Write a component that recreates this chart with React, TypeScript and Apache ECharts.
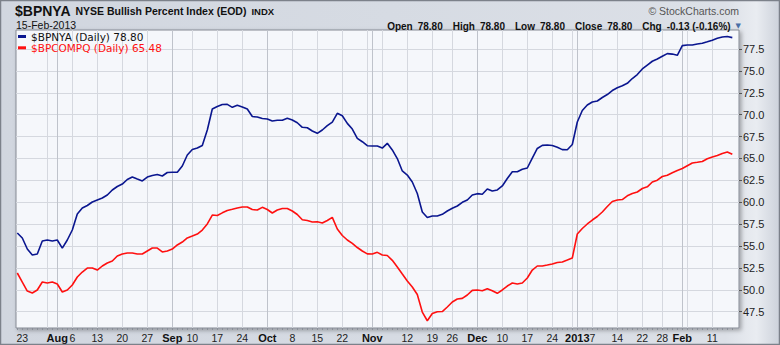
import React, { useEffect, useRef } from "react";
import * as echarts from "echarts";

const dates = [
  "2012-07-20","2012-07-23","2012-07-24","2012-07-25","2012-07-26","2012-07-27","2012-07-30","2012-07-31",
  "2012-08-01","2012-08-02","2012-08-03","2012-08-06","2012-08-07","2012-08-08","2012-08-09","2012-08-10",
  "2012-08-13","2012-08-14","2012-08-15","2012-08-16","2012-08-17","2012-08-20","2012-08-21","2012-08-22",
  "2012-08-23","2012-08-24","2012-08-27","2012-08-28","2012-08-29","2012-08-30","2012-08-31",
  "2012-09-04","2012-09-05","2012-09-06","2012-09-07","2012-09-10","2012-09-11","2012-09-12","2012-09-13",
  "2012-09-14","2012-09-17","2012-09-18","2012-09-19","2012-09-20","2012-09-21","2012-09-24","2012-09-25",
  "2012-09-26","2012-09-27","2012-09-28",
  "2012-10-01","2012-10-02","2012-10-03","2012-10-04","2012-10-05","2012-10-08","2012-10-09","2012-10-10",
  "2012-10-11","2012-10-12","2012-10-15","2012-10-16","2012-10-17","2012-10-18","2012-10-19","2012-10-22",
  "2012-10-23","2012-10-24","2012-10-25","2012-10-26","2012-10-31",
  "2012-11-01","2012-11-02","2012-11-05","2012-11-06","2012-11-07","2012-11-08","2012-11-09","2012-11-12",
  "2012-11-13","2012-11-14","2012-11-15","2012-11-16","2012-11-19","2012-11-20","2012-11-21","2012-11-23",
  "2012-11-26","2012-11-27","2012-11-28","2012-11-29","2012-11-30",
  "2012-12-03","2012-12-04","2012-12-05","2012-12-06","2012-12-07","2012-12-10","2012-12-11","2012-12-12",
  "2012-12-13","2012-12-14","2012-12-17","2012-12-18","2012-12-19","2012-12-20","2012-12-21","2012-12-24",
  "2012-12-26","2012-12-27","2012-12-28","2012-12-31",
  "2013-01-02","2013-01-03","2013-01-04","2013-01-07","2013-01-08","2013-01-09","2013-01-10","2013-01-11",
  "2013-01-14","2013-01-15","2013-01-16","2013-01-17","2013-01-18","2013-01-22","2013-01-23","2013-01-24",
  "2013-01-25","2013-01-28","2013-01-29","2013-01-30","2013-01-31",
  "2013-02-01","2013-02-04","2013-02-05","2013-02-06","2013-02-07","2013-02-08","2013-02-11","2013-02-12",
  "2013-02-13","2013-02-14","2013-02-15"
];

const bpnya = [
  56.49,55.92,54.66,53.98,54.09,55.58,55.69,55.58,55.69,54.77,55.69,56.83,58.66,59.34,59.63,60.03,
  60.26,60.49,60.83,61.40,61.80,62.08,62.60,62.88,62.65,62.43,62.88,63.05,63.17,63.00,63.40,63.42,
  63.42,64.14,65.40,66.02,66.19,66.48,68.25,70.65,70.93,71.16,71.18,70.84,71.07,70.88,70.65,69.79,
  69.73,69.56,69.51,69.28,69.36,69.36,69.59,69.39,69.08,68.56,68.51,68.14,67.87,68.25,68.74,69.16,
  70.16,69.88,69.01,68.36,67.30,66.91,66.46,66.42,66.42,66.19,66.73,65.97,64.99,63.57,63.11,62.31,
  61.00,58.89,58.26,58.43,58.43,58.62,59.00,59.31,59.57,59.99,60.26,60.83,60.98,60.91,61.51,61.28,
  61.40,61.86,62.71,63.49,63.49,63.76,63.91,65.05,66.14,66.50,66.54,66.48,66.27,66.01,66.00,66.59,
  69.16,70.48,71.11,71.45,71.56,71.96,72.30,72.76,73.07,73.31,73.58,74.13,74.58,75.22,75.67,76.10,
  76.36,76.67,76.97,76.92,76.78,77.89,77.96,77.96,78.07,78.15,78.32,78.50,78.72,78.87,78.93,78.80
];

const bpcompq = [
  51.92,50.89,49.86,49.64,49.98,50.89,50.78,50.89,50.66,49.75,49.98,50.55,51.46,52.03,52.49,52.49,
  52.26,52.72,53.06,53.29,53.86,54.09,54.20,54.20,54.09,54.09,54.43,54.77,54.77,54.32,54.43,54.66,
  55.12,55.46,55.92,56.14,56.37,56.83,57.52,58.54,58.49,58.79,59.06,59.19,59.34,59.46,59.46,59.17,
  59.11,59.42,59.17,58.77,59.11,59.28,59.28,59.00,58.60,58.00,57.92,57.74,57.77,57.63,57.92,58.28,
  56.94,56.20,55.69,55.31,54.83,54.43,54.11,54.09,54.28,53.98,53.92,53.37,52.60,51.80,51.01,50.32,
  49.46,47.46,46.47,47.29,47.50,47.52,48.04,48.61,48.95,49.02,49.41,49.94,49.98,49.90,50.13,49.89,
  49.60,49.98,50.43,50.78,50.66,50.78,51.35,52.26,52.72,52.72,52.83,52.95,53.12,53.18,53.40,53.63,
  56.37,57.00,57.52,57.97,58.37,58.89,59.51,60.08,60.26,60.31,60.74,60.99,61.17,61.57,61.76,62.31,
  62.52,62.94,63.09,63.36,63.62,63.85,64.17,64.48,64.56,64.65,64.96,65.17,65.34,65.57,65.74,65.48
];

const yTicks = [47.5, 50, 52.5, 55, 57.5, 60, 62.5, 65, 67.5, 70, 72.5, 75, 77.5];

const weekLines = [
  "2012-07-30","2012-08-06","2012-08-13","2012-08-20","2012-08-27","2012-09-04","2012-09-10",
  "2012-09-17","2012-09-24","2012-10-01","2012-10-08","2012-10-15","2012-10-22","2012-10-31","2012-11-05",
  "2012-11-12","2012-11-19","2012-11-26","2012-12-03","2012-12-10","2012-12-17","2012-12-24","2012-12-31",
  "2013-01-07","2013-01-14","2013-01-22","2013-01-28","2013-02-04","2013-02-11"
];
const monthLines = ["2012-08-01","2012-09-04","2012-10-01","2012-11-01","2012-12-03","2013-01-02","2013-02-01"];

const xLabelDates = [
  "2012-07-23","2012-08-01","2012-08-06","2012-08-13","2012-08-20","2012-08-27","2012-09-04","2012-09-10",
  "2012-09-17","2012-09-24","2012-10-01","2012-10-08","2012-10-15","2012-10-22","2012-11-01","2012-11-12",
  "2012-11-19","2012-11-26","2012-12-03","2012-12-10","2012-12-17","2012-12-24","2013-01-02","2013-01-07",
  "2013-01-14","2013-01-22","2013-01-28","2013-02-01","2013-02-11"
];
const xLabelTexts = [
  "23","Aug","6","13","20","27","Sep","10","17","24","Oct","8","15","22","Nov","12","19","26",
  "Dec","10","17","24","2013","7","14","22","28","Feb","11"
];
const boldLabels = ["Aug","Sep","Oct","Nov","Dec","2013","Feb"];

const seriesNames = ["$BPNYA", "$BPCOMPQ"];
const seriesColors = ["#0a168f", "#ff1010"];

export default function App() {
  const ref = useRef<HTMLDivElement>(null);
  useEffect(() => {
    if (!ref.current) return;
    const chart = echarts.init(ref.current, undefined, { renderer: "svg" });
    const idx = (d: string) => dates.indexOf(d);
    const labelIdx = xLabelDates.map(idx);
    const labelMap: Record<number, string> = {};
    labelIdx.forEach((k, j) => { labelMap[k] = xLabelTexts[j]; });
    const allIdx = dates.map((_, i) => i);
    const lastA = bpnya[bpnya.length - 1];
    const lastB = bpcompq[bpcompq.length - 1];
    const xMin = -0.26, xMax = 144.34;
    const font = "'Liberation Sans', Arial, sans-serif";

    const option: any = {
      animation: false,
      backgroundColor: new echarts.graphic.LinearGradient(0, 0, 1, 0, [
        { offset: 0, color: "#d1d6df" },
        { offset: 0.5, color: "#d6dbe3" },
        { offset: 0.93, color: "#dce0e7" },
        { offset: 0.97, color: "#e9ecf1" },
        { offset: 1, color: "#ccd1da" },
      ]),
      title: [
        {
          left: 15, top: 2, padding: 0,
          text: "{a|$BPNYA} {b|NYSE Bullish Percent Index (EOD)} {c|INDX}",
          textStyle: {
            rich: {
              a: { fontFamily: font, fontWeight: "bold", fontSize: 14, lineHeight: 16, color: "#111" },
              b: { fontFamily: font, fontSize: 10.5, lineHeight: 16, color: "#111" },
              c: { fontFamily: font, fontSize: 9.5, lineHeight: 16, color: "#111" },
            },
          },
        },
        {
          left: 16, top: 19, padding: 0, text: "15-Feb-2013",
          textStyle: { fontFamily: font, fontSize: 10.5, lineHeight: 11, fontWeight: "normal", color: "#111" },
        },
        {
          right: 41, top: 5, padding: 0, text: "© StockCharts.com",
          textStyle: { fontFamily: font, fontSize: 10.5, fontWeight: "normal", color: "#555" },
        },
        {
          right: 39, top: 17, padding: 0,
          text: "{k|Open} {v|78.80}  {k|High} {v|78.80}  {k|Low} {v|78.80}  {k|Close} {v|78.80}  {k|Chg} {v|-0.13 (-0.16%)} {t|▼}",
          textStyle: {
            rich: {
              k: { fontFamily: font, fontWeight: "bold", fontSize: 10, color: "#111" },
              v: { fontFamily: font, fontSize: 10, color: "#111" },
              t: { fontFamily: "DejaVu Sans", fontSize: 7, color: "#4a6ea6" },
            },
          },
        },
      ],
      legend: {
        left: 18, top: 31, orient: "vertical", padding: 0, itemGap: 0.3,
        itemWidth: 8, itemHeight: 3, icon: "rect",
        data: [
          { name: seriesNames[0], textStyle: { color: "#111" } },
          { name: seriesNames[1], textStyle: { color: "#ff1010" } },
        ],
        formatter: (n: string) => `${n} (Daily) ${(n === seriesNames[0] ? lastA : lastB).toFixed(2)}`,
        textStyle: { fontFamily: "'DejaVu Sans', sans-serif", fontSize: 10.5, lineHeight: 10.5 },
      },
      grid: {
        left: 16, right: 41, top: 30, bottom: 17,
        show: true, backgroundColor: "#f5f7fb", borderColor: "#858a94", borderWidth: 1,
        shadowColor: "rgba(0,0,0,0.3)", shadowBlur: 4, shadowOffsetX: 2, shadowOffsetY: 2,
        outerBoundsMode: "none",
      },
      xAxis: [
        {
          type: "value", min: xMin, max: xMax, position: "bottom",
          axisLine: { show: false, onZero: false },
          axisTick: { show: false, customValues: weekLines.map(idx) },
          splitLine: { show: true, lineStyle: { color: "#d5d8df", width: 1 } },
          axisLabel: {
            customValues: labelIdx, margin: 4,
            formatter: (v: number) => {
              const t = labelMap[Math.round(v)] ?? "";
              return boldLabels.includes(t) ? `{m|${t}}` : `{d|${t}}`;
            },
            rich: {
              m: { fontFamily: font, fontWeight: "bold", fontSize: 11, color: "#111" },
              d: { fontFamily: font, fontSize: 10.5, color: "#222" },
            },
          },
        },
        {
          type: "value", min: xMin, max: xMax, position: "bottom",
          axisLine: { show: false, onZero: false },
          axisTick: { show: false, customValues: monthLines.map(idx) },
          axisLabel: { show: false },
          splitLine: { show: true, lineStyle: { color: "#bfc3cb", width: 1 } },
        },
        {
          type: "value", min: xMin, max: xMax, position: "bottom",
          axisLine: { show: false, onZero: false },
          axisTick: { show: true, customValues: allIdx, length: 2, lineStyle: { color: "#8a8f98", width: 1 } },
          axisLabel: { show: false },
          splitLine: { show: false },
        },
      ],
      yAxis: {
        type: "value", position: "right", min: 45.64, max: 79.67,
        axisLine: { show: false, onZero: false },
        axisTick: { show: true, customValues: yTicks, length: 3, lineStyle: { color: "#555" } },
        axisLabel: {
          customValues: yTicks, margin: 4,
          formatter: (v: number) => v.toFixed(1),
          fontFamily: font, fontSize: 11, color: "#222",
        },
        splitLine: { show: true, lineStyle: { color: "#d5d8df", width: 1 } },
      },
      graphic: [
        {
          type: "rect", silent: true, z: 100,
          shape: { x: 0.5, y: 0.5, width: 779, height: 344 },
          style: { fill: "none", stroke: "#7c818a", lineWidth: 1.5 },
        },
      ],
      series: [
        {
          name: seriesNames[1], type: "line", xAxisIndex: 0, showSymbol: false,
          data: bpcompq.map((v, i) => [i, v]),
          lineStyle: { color: seriesColors[1], width: 1.6 },
          itemStyle: { color: seriesColors[1] },
        },
        {
          name: seriesNames[0], type: "line", xAxisIndex: 0, showSymbol: false,
          data: bpnya.map((v, i) => [i, v]),
          lineStyle: { color: seriesColors[0], width: 1.6 },
          itemStyle: { color: seriesColors[0] },
        },
      ],
    };
    chart.setOption(option);
    return () => chart.dispose();
  }, []);
  return <div ref={ref} style={{ position: "fixed", left: 0, top: 0, width: 780, height: 345 }} />;
}
